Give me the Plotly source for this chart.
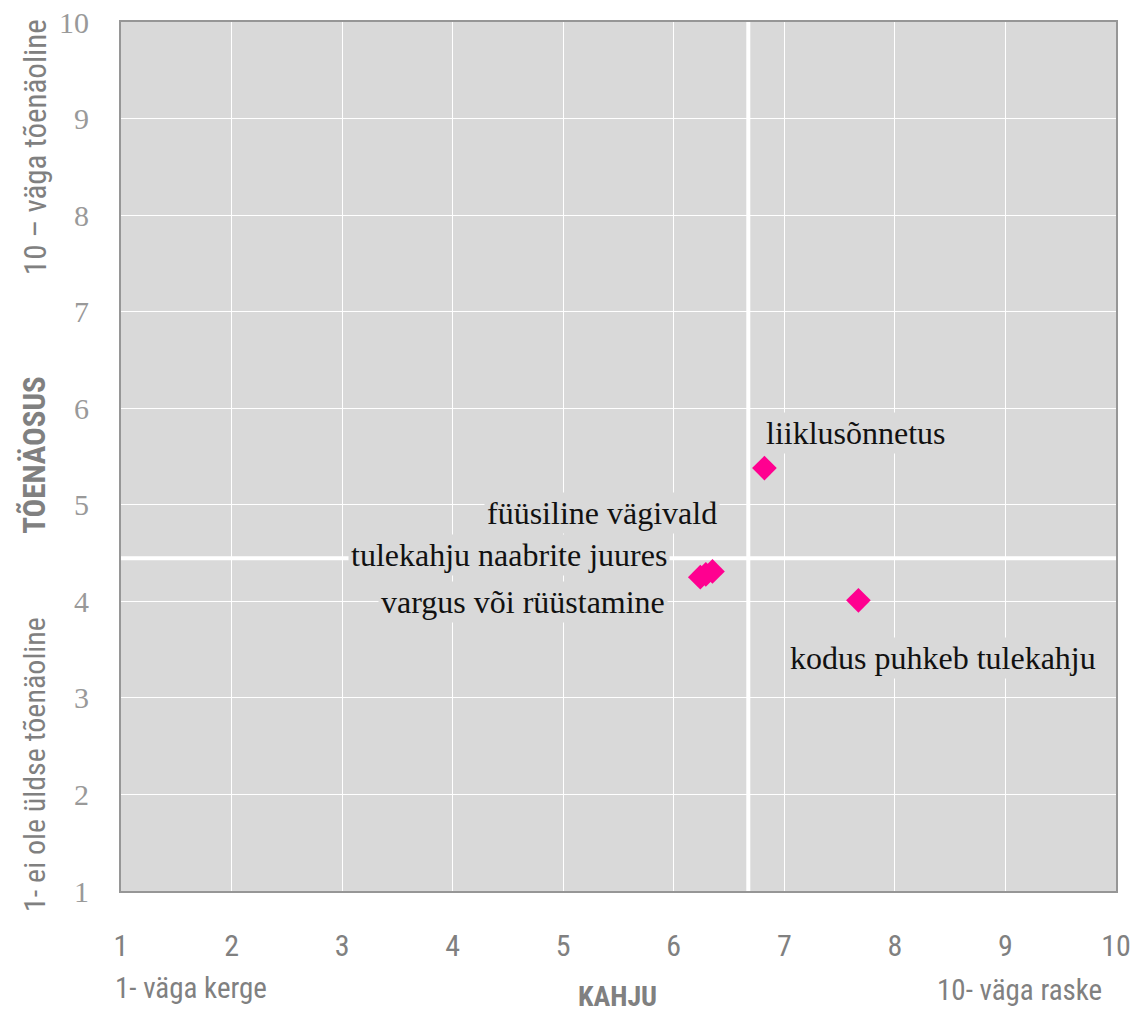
import numpy as np
import plotly.graph_objects as go

# Data
labels = ["liiklusõnnetus", "kodus puhkeb tulekahju", "füüsiline vägivald",
          "tulekahju naabrite juures", "vargus või rüüstamine"]
kahju = [6.82, 7.67, 6.35, 6.29, 6.24]
toenaosus = [5.38, 4.01, 4.31, 4.28, 4.25]
tick_vals = list(range(1, 11))

# label placement (offsets in px from point)
label_anchor = ["left", "left", "right", "right", "right"]
label_dx = [-1, -71, 8, -36, -32]
label_dy = [35, -58, 58, 19, -25]

mean_x = float(np.mean(kahju))
mean_y = float(np.mean(toenaosus))

BG = "#d9d9d9"
GREY = "#808080"
NARROW = "Liberation Sans Narrow, Arial Narrow, Roboto Condensed, sans-serif"
SERIF = "Liberation Serif, Times New Roman, serif"

fig = go.Figure()

# quadrant lines (at means)
fig.add_shape(type="line", xref="x", yref="paper", x0=mean_x, x1=mean_x, y0=0, y1=1,
              line=dict(color="white", width=4), layer="below")
fig.add_shape(type="line", xref="paper", yref="y", x0=0, x1=1, y0=mean_y, y1=mean_y,
              line=dict(color="white", width=4), layer="below")

fig.add_trace(go.Scatter(
    x=kahju, y=toenaosus, mode="markers",
    marker=dict(symbol="diamond", size=19, color="#ff0090"),
    showlegend=False, hoverinfo="skip"))

for lab, x, y, anc, dx, dy in zip(labels, kahju, toenaosus, label_anchor, label_dx, label_dy):
    fig.add_annotation(x=x, y=y, xref="x", yref="y", text=lab, showarrow=False,
                       xanchor=anc, yanchor="middle", xshift=dx, yshift=dy,
                       bgcolor=BG, borderpad=2,
                       font=dict(family=SERIF, size=32, color="#111111"))

axis_common = dict(range=[1, 10], tickvals=tick_vals, showgrid=True, gridcolor="white",
                   gridwidth=1, zeroline=False, showline=True, linecolor="#969696",
                   linewidth=2, mirror=True, ticks="outside", tickcolor="rgba(0,0,0,0)",
                   automargin=False)

fig.update_xaxes(**axis_common, ticklen=27,
                 tickfont=dict(family=NARROW, size=30, color=GREY))
fig.update_yaxes(**axis_common, ticklen=24,
                 tickfont=dict(family=SERIF, size=30, color="#999999"))

# axis titles
def ann(text, x, y, size, bold=False, angle=0):
    fig.add_annotation(text=f"<b>{text}</b>" if bold else text, x=x, y=y,
                       xref="paper", yref="paper", showarrow=False,
                       xanchor="center", yanchor="middle", textangle=angle,
                       font=dict(family=NARROW, size=size, color=GREY))

ann("KAHJU", 0.4985, -0.1215, 28, bold=True)
ann("1- väga kerge", 0.0704, -0.1118, 29)
ann("10- väga raske", 0.9035, -0.114, 29)
ann("TÕENÄOSUS", -0.0864, 0.502, 31, bold=True, angle=-90)
ann("10 – väga tõenäoline", -0.0864, 0.856, 31, angle=-90)
ann("1- ei ole üldse tõenäoline", -0.0864, 0.145, 30, angle=-90)

fig.update_layout(
    width=1135, height=1013,
    margin=dict(l=121, r=19, t=22, b=122),
    plot_bgcolor=BG, paper_bgcolor="white",
)

fig.write_html("out.html", config={"displayModeBar": False},
               post_script="document.body.style.margin='0';document.body.style.overflow='hidden';")
